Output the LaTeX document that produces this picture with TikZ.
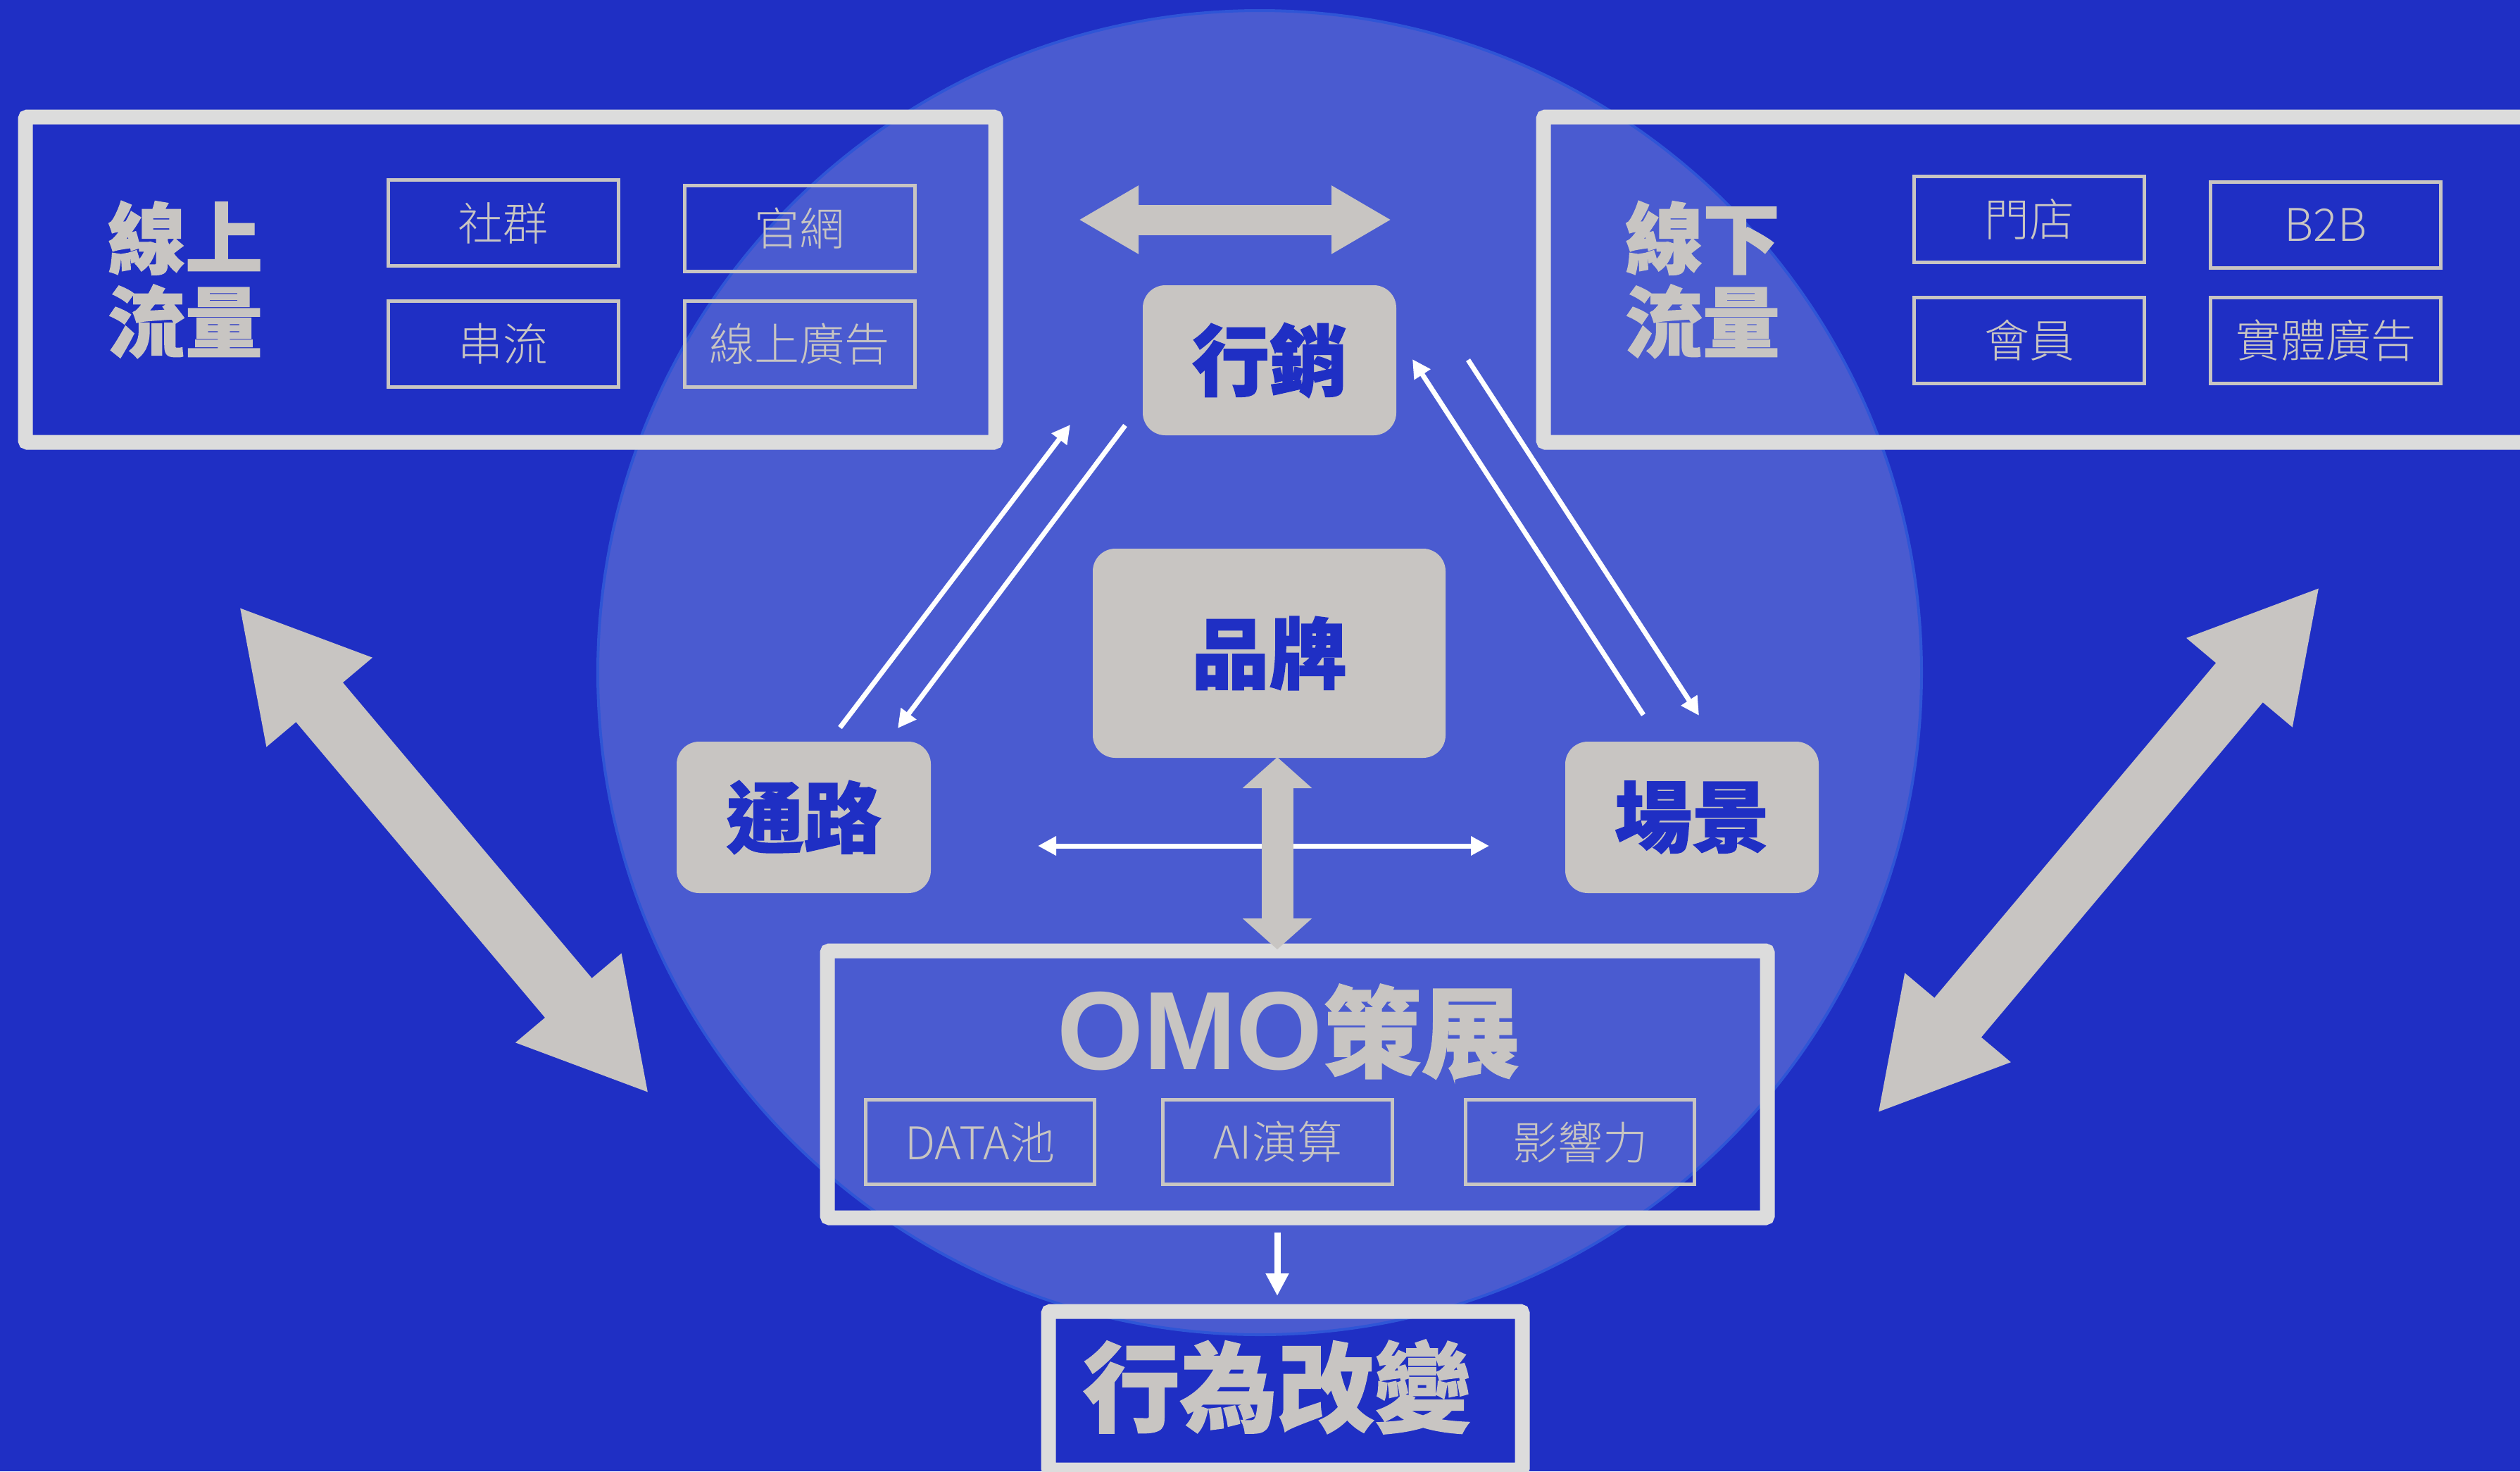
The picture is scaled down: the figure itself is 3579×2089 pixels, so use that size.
\documentclass[tikz,border=0pt]{standalone}
\usepackage{fontspec}
\newfontfamily\cjk{Noto Sans CJK TC}[BoldFeatures={FakeBold=1.3}]
\IfFontExistsTF{Noto Sans CJK TC Light}{\newfontfamily\cjklight{Noto Sans CJK TC Light}}{\newfontfamily\cjklight{Noto Sans CJK TC}}
\newfontfamily\latin{Liberation Sans}
\usetikzlibrary{arrows.meta,calc}
\definecolor{bgblue}{HTML}{1F2FC4}
\definecolor{circblue}{HTML}{4A5BD0}
\definecolor{circedge}{HTML}{2F55D6}
\definecolor{lgrey}{HTML}{C8C5C2}
\definecolor{bgrey}{HTML}{DCDCDC}
\begin{document}
\begin{tikzpicture}[x=1pt,y=-1pt,
  bigbox/.style={draw=bgrey, line width=21pt, rounded corners=3pt, inner sep=0pt, outer sep=0pt},
  smallbox/.style={draw=lgrey, line width=5pt, minimum width=327pt, minimum height=122pt, inner sep=0pt, outer sep=0pt, text=lgrey, font=\cjklight\fontsize{64pt}{70pt}\selectfont},
  pill/.style={fill=lgrey, rounded corners=32pt, inner sep=0pt, outer sep=0pt, text=bgblue, font=\cjk\bfseries\fontsize{110pt}{120pt}\selectfont},
  bigtext/.style={text=lgrey, inner sep=0pt, align=center, font=\cjk\bfseries\fontsize{110pt}{119pt}\selectfont},
  wline/.style={draw=white, line width=7pt},
  wtip/.tip={Triangle[length=26pt,width=26pt]},
  garrowbig/.style={draw=lgrey, line width=87pt, {Triangle[length=178pt,width=183pt]}-{Triangle[length=178pt,width=183pt]}},
  garrowtop/.style={draw=lgrey, line width=43pt, {Triangle[length=85pt,width=91pt]}-{Triangle[length=85pt,width=91pt]}},
  garrowmid/.style={draw=lgrey, line width=45pt, {Triangle[length=44pt,width=96pt]}-{Triangle[length=44pt,width=96pt]}}
]
\useasboundingbox (0,0) rectangle (3579,2089);
\clip (0,0) rectangle (3579,2089);
\fill[bgblue] (0,0) rectangle (3579,2089);
% central circle
\fill[circblue, draw=circedge, line width=4pt] (1789,955) circle[radius=940pt];

% online traffic box
\node[bigbox, minimum width=1378pt, minimum height=462pt] (online) at (725,397) {};
\node[bigtext] (onlinet) at (263,397) {線上\\流量};
\node[smallbox] (s1) at (714.5,316.5) {社群};
\node[smallbox] (s2) at (1135.5,324.5) {官網};
\node[smallbox] (s3) at (714.5,488.5) {串流};
\node[smallbox] (s4) at (1135.5,488.5) {線上廣告};

% offline traffic box
\node[bigbox, minimum width=1428pt, minimum height=462pt] (offline) at (2906,397) {};
\node[bigtext] (offlinet) at (2418,397) {線下\\流量};
\node[smallbox] (f1) at (2882,311.5) {門店};
\node[smallbox] (f2) at (3303,319.5) {B2B};
\node[smallbox] (f3) at (2882,483.5) {會員};
\node[smallbox] (f4) at (3303,483.5) {實體廣告};

% grey pills
\node[pill, minimum width=360pt, minimum height=213pt] (mkt) at (1803,511.5) {行銷};
\node[pill, minimum width=501pt, minimum height=297pt] (brand) at (1802.5,927.5) {品牌};
\node[pill, minimum width=361pt, minimum height=215pt] (chan) at (1141.5,1160.5) {通路};
\node[pill, minimum width=360pt, minimum height=215pt] (scene) at (2403,1160.5) {場景};

% OMO box
\node[bigbox, minimum width=1335pt, minimum height=379pt] (omo) at (1842.5,1539.5) {};
\node[text=lgrey, inner sep=0pt] (omot) at (1830,1465) {{\latin\bfseries\fontsize{158pt}{160pt}\selectfont OMO}{\cjk\bfseries\fontsize{140pt}{150pt}\selectfont 策展}};
\node[smallbox, minimum width=325pt, minimum height=120pt] (o1) at (1392,1621.5) {DATA池};
\node[smallbox, minimum width=326pt, minimum height=120pt] (o2) at (1814.5,1621.5) {AI演算};
\node[smallbox, minimum width=325pt, minimum height=120pt] (o3) at (2244,1621.5) {影響力};

% behaviour change box
\node[bigbox, minimum width=673pt, minimum height=225pt] (act) at (1825.5,1974.5) {};
\node[text=lgrey, inner sep=0pt, font=\cjk\bfseries\fontsize{138pt}{150pt}\selectfont] (actt) at (1814,1969) {行為改變};

% white arrows
\coordinate (la1) at (1193,1033); \coordinate (la2) at (1520,603);
\coordinate (lb1) at (1598,604);  \coordinate (lb2) at (1275,1034);
\coordinate (ra1) at (2334,1015); \coordinate (ra2) at (2006,510);
\coordinate (rb1) at (2085,511);  \coordinate (rb2) at (2413,1016);
\coordinate (h1) at (1474,1201);  \coordinate (h2) at (2115,1201);
\draw[wline, -wtip] (la1) -- (la2);
\draw[wline, -wtip] (lb1) -- (lb2);
\draw[wline, -wtip] (ra1) -- (ra2);
\draw[wline, -wtip] (rb1) -- (rb2);
\draw[wline, wtip-wtip] (h1) -- (h2);
\coordinate (vx) at (1814,0);
\draw[draw=white, line width=9pt, -{Triangle[length=32pt,width=31pt]}]
  ($(omo.south -| vx)+(0,21)$) -- ($(act.north -| vx)+(0,-22)$);

% grey arrows
\coordinate (t1) at (1532,312); \coordinate (t2) at (1976,312);
\draw[garrowtop] (t1) -- (t2);
\draw[garrowmid] ($(brand.south -| vx)+(0,-1)$) -- ($(omo.north -| vx)+(0,-2)$);
\coordinate (d1) at (339,861);  \coordinate (d2) at (922,1553);
\coordinate (e1) at (3295,833); \coordinate (e2) at (2666,1581);
\draw[garrowbig] (d1) -- (d2);
\draw[garrowbig] (e1) -- (e2);
\end{tikzpicture}
\end{document}
